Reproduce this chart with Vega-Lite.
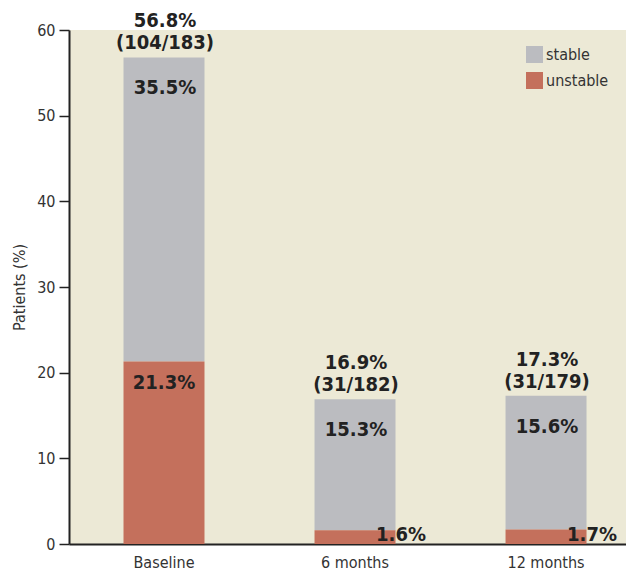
{
  "$schema": "https://vega.github.io/schema/vega-lite/v6.json",
  "autosize": {"type": "none"},
  "padding": {"left": 69, "top": 30, "right": 0, "bottom": 26},
  "width": 557,
  "height": 514,
  "background": "#ffffff",
  "view": {"fill": "#ece9d6", "stroke": null},
  "config": {
    "font": "'DejaVu Sans Condensed', Roboto, sans-serif",
    "axis": {"labelFont": "'DejaVu Sans Condensed', Roboto, sans-serif", "titleFont": "'DejaVu Sans Condensed', Roboto, sans-serif", "labelColor": "#333333", "titleColor": "#333333", "labelFontSize": 16, "titleFontSize": 16, "titleFontWeight": "normal", "domainColor": "#222222", "domainWidth": 2, "tickColor": "#222222", "tickWidth": 1.5, "grid": false},
    "legend": {"labelFont": "'DejaVu Sans Condensed', Roboto, sans-serif", "labelFontSize": 16, "labelColor": "#333333"}
  },
  "datasets": {
    "parts": [
      {"time": "Baseline", "status": "stable", "pct": 35.5},
      {"time": "Baseline", "status": "unstable", "pct": 21.3},
      {"time": "6 months", "status": "stable", "pct": 15.3},
      {"time": "6 months", "status": "unstable", "pct": 1.6},
      {"time": "12 months", "status": "stable", "pct": 15.6},
      {"time": "12 months", "status": "unstable", "pct": 1.7}
    ],
    "totals": [
      {"time": "Baseline", "total": 56.8, "n": "104/183"},
      {"time": "6 months", "total": 16.9, "n": "31/182"},
      {"time": "12 months", "total": 17.3, "n": "31/179"}
    ]
  },
  "data": {"name": "parts"},
  "transform": [
    {"stack": "pct", "groupby": ["time"], "sort": [{"field": "status", "order": "descending"}], "as": ["y0", "y1"]},
    {"calculate": "format(datum.pct, '.1f') + '%'", "as": "label"}
  ],
  "encoding": {
    "x": {
      "field": "time", "type": "nominal", "sort": ["Baseline", "6 months", "12 months"],
      "scale": {"paddingInner": 0.576, "paddingOuter": 0.246, "align": 0.58},
      "axis": {"title": null, "labelAngle": 0, "ticks": false, "labelPadding": 10}
    }
  },
  "layer": [
    {
      "mark": {"type": "bar"},
      "encoding": {
        "y": {"field": "y1", "type": "quantitative", "scale": {"domain": [0, 60], "nice": false}, "axis": {"title": "Patients (%)", "values": [0, 10, 20, 30, 40, 50, 60], "tickSize": 10, "labelPadding": 4, "titlePadding": 9}},
        "y2": {"field": "y0"},
        "color": {
          "field": "status", "type": "nominal",
          "scale": {"domain": ["stable", "unstable"], "range": ["#bbbcc0", "#c4705c"]},
          "legend": {"title": null, "orient": "none", "legendX": 457, "legendY": 16, "symbolType": "square", "symbolSize": 289, "symbolStrokeWidth": 0, "symbolOpacity": 1, "rowPadding": 9, "labelOffset": 3, "padding": 0}
        }
      }
    },
    {
      "transform": [{"filter": "datum.status == 'stable'"}],
      "mark": {"type": "text", "fontWeight": "bold", "fontSize": 20, "color": "#222222", "baseline": "middle", "dy": 31, "dx": 1},
      "encoding": {"y": {"field": "y1", "type": "quantitative"}, "text": {"field": "label"}}
    },
    {
      "transform": [{"filter": "datum.status == 'unstable' && datum.pct > 5"}],
      "mark": {"type": "text", "fontWeight": "bold", "fontSize": 20, "color": "#222222", "baseline": "middle", "dy": 21},
      "encoding": {"y": {"field": "y1", "type": "quantitative"}, "text": {"field": "label"}}
    },
    {
      "transform": [{"filter": "datum.status == 'unstable' && datum.pct <= 5"}],
      "mark": {"type": "text", "fontWeight": "bold", "fontSize": 20, "color": "#222222", "baseline": "alphabetic", "dy": -3, "dx": 46},
      "encoding": {"y": {"field": "y0", "type": "quantitative"}, "text": {"field": "label"}}
    },
    {
      "data": {"name": "totals"},
      "transform": [{"calculate": "format(datum.total, '.1f') + '%\\n(' + datum.n + ')'", "as": "tlabel"}],
      "mark": {"type": "text", "fontWeight": "bold", "fontSize": 20, "color": "#222222", "baseline": "bottom", "lineBreak": "\n", "lineHeight": 22, "dy": -26, "dx": 1},
      "encoding": {"y": {"field": "total", "type": "quantitative"}, "text": {"field": "tlabel"}}
    }
  ]
}
